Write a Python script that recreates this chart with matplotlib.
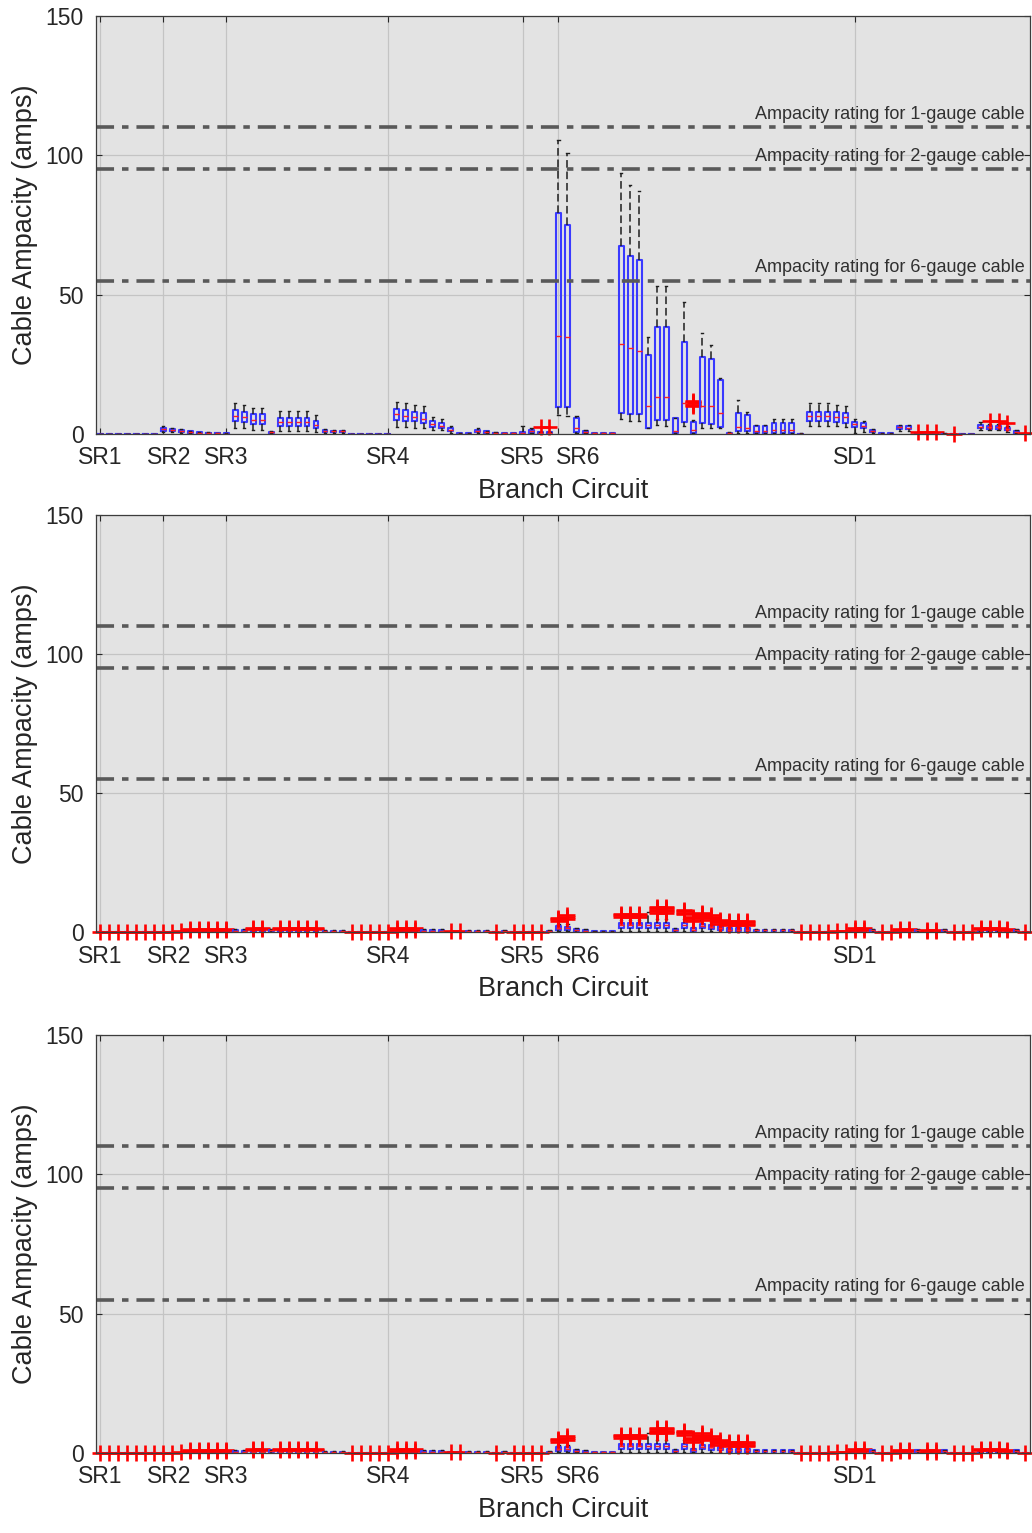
import matplotlib.pyplot as plt
from matplotlib.transforms import ScaledTranslation

plt.rcParams['font.family'] = ['Liberation Sans', 'DejaVu Sans']

# branch circuit groups marked along the x axis
circuit_pos = [1, 8, 15, 33, 48, 52, 85]
circuit_names = ['SR1', 'SR2', 'SR3', 'SR4', 'SR5', 'SR6', 'SD1']
# small horizontal nudge (points) so neighbouring labels don't collide
label_shift = [0, 4, 0, 0, 0, 14, 0]

# cable ratings (amps)
ratings = [110, 95, 55]
rating_labels = ['Ampacity rating for 1-gauge cable',
                 'Ampacity rating for 2-gauge cable',
                 'Ampacity rating for 6-gauge cable']

n_circuits = 104

# ---- top panel: box statistics per circuit (amps) ----
whislo_top = [0, 0, 0, 0, 0, 0, 0, 0.8, 0.6, 0.5,
              0.3, 0.2, 0.1, 0.1, 0, 2.0, 2.0, 1.5, 1.5, 0.2,
              1.2, 1.2, 1.2, 1.2, 0.8, 0.5, 0.4, 0.4, 0, 0,
              0, 0, 0, 2.5, 2.5, 2.0, 2.0, 1.5, 1.5, 0.5,
              0, 0, 0.5, 0.3, 0.1, 0, 0, 0.1, 0.2, 0,
              0, 6.8, 6.5, 0.3, 0.3, 0, 0, 0, 5.3, 4.8,
              4.8, 2.0, 3.2, 3.0, 0.3, 2.9, 0.3, 2.0, 2.0, 2.0,
              0, 0.5, 0.5, 0.3, 0.3, 0.3, 0.3, 0.3, 0, 3.0,
              3.0, 3.0, 2.8, 2.5, 0.2, 0.8, 0.3, 0, 0, 1.2,
              1.0, 0, 0, 0, 0, 0, 0, 0, 1.5, 1.3,
              1.3, 0.8, 0.2, 0]
q1_top = [0, 0, 0, 0, 0, 0, 0, 1.2, 0.9, 0.8,
          0.5, 0.3, 0.2, 0.2, 0, 4.5, 4.3, 3.5, 3.5, 0.4,
          3.0, 3.0, 3.0, 3.0, 2.3, 0.8, 0.7, 0.7, 0, 0,
          0, 0, 0, 5.0, 4.8, 4.5, 4.0, 2.5, 2.3, 1.0,
          0, 0, 0.8, 0.5, 0.2, 0.1, 0.1, 0.3, 0.5, 0.2,
          0.2, 9.8, 9.6, 0.8, 0.5, 0.1, 0.1, 0.1, 7.7, 7.2,
          7.2, 2.0, 5.0, 5.0, 0.5, 4.4, 0.5, 3.8, 3.6, 2.6,
          0.1, 1.2, 1.2, 0.5, 0.5, 0.5, 0.5, 0.5, 0, 4.8,
          4.8, 4.8, 4.3, 3.8, 2.6, 2.0, 0.7, 0, 0, 1.8,
          1.7, 0, 0, 0, 0, 0, 0, 0, 2.0, 1.9,
          1.9, 1.3, 0.5, 0]
med_top = [0, 0, 0, 0, 0, 0, 0, 1.8, 1.3, 1.1,
           0.7, 0.5, 0.4, 0.3, 0.1, 6.5, 6.0, 5.0, 5.0, 0.6,
           4.3, 4.3, 4.3, 4.3, 3.3, 1.0, 0.9, 0.9, 0, 0,
           0, 0, 0, 7.0, 6.5, 6.0, 5.5, 3.5, 3.0, 1.5,
           0.1, 0.1, 1.1, 0.7, 0.4, 0.2, 0.2, 0.5, 0.9, 0.4,
           0.4, 35.2, 34.7, 2.0, 0.8, 0.2, 0.2, 0.2, 32.2, 30.7,
           29.9, 10.0, 13.2, 13.2, 1.0, 11.0, 1.5, 10.0, 10.0, 7.4,
           0.3, 2.6, 2.0, 1.0, 1.0, 1.5, 1.5, 1.5, 0, 6.5,
           6.5, 6.5, 6.2, 6.0, 3.5, 3.0, 1.0, 0.1, 0.1, 2.4,
           2.2, 0.1, 0.1, 0.1, 0, 0, 0, 0, 2.6, 2.5,
           2.5, 1.8, 0.8, 0]
q3_top = [0, 0, 0, 0, 0, 0, 0, 2.3, 1.7, 1.4,
          0.9, 0.6, 0.5, 0.4, 0.2, 8.5, 8.0, 7.0, 7.0, 0.8,
          5.6, 5.6, 5.6, 5.6, 4.5, 1.3, 1.2, 1.2, 0, 0,
          0, 0, 0, 9.0, 8.5, 8.0, 7.5, 4.5, 4.0, 2.2,
          0.3, 0.2, 1.4, 0.9, 0.5, 0.3, 0.3, 0.8, 1.4, 0.6,
          0.6, 79.2, 75.0, 5.7, 1.1, 0.3, 0.3, 0.3, 67.6, 64.0,
          62.4, 28.3, 38.3, 38.3, 5.6, 32.9, 4.4, 27.5, 26.8, 19.4,
          0.5, 7.4, 6.8, 2.9, 2.9, 4.1, 4.1, 4.1, 0.1, 8.0,
          8.0, 8.0, 7.8, 7.4, 4.4, 4.1, 1.4, 0.2, 0.2, 2.9,
          2.7, 0.2, 0.2, 0.2, 0.1, 0, 0, 0, 3.2, 3.0,
          3.0, 2.3, 1.1, 0]
whishi_top = [0, 0, 0, 0, 0, 0, 0, 2.8, 2.0, 1.7,
              1.1, 0.8, 0.6, 0.5, 0.3, 11.0, 10.5, 9.5, 9.5, 1.0,
              8.4, 8.4, 8.4, 8.4, 6.8, 1.8, 1.6, 1.6, 0, 0,
              0, 0, 0, 11.5, 11.0, 10.5, 10.0, 6.0, 5.5, 3.0,
              0.5, 0.3, 2.0, 1.2, 0.7, 0.4, 0.4, 3.0, 2.0, 0.8,
              0.8, 105.5, 101.0, 6.5, 1.5, 0.4, 0.4, 0.4, 93.5, 89.3,
              87.3, 34.9, 53.1, 53.1, 5.8, 47.5, 5.0, 36.1, 31.9, 20.0,
              0.7, 12.2, 8.0, 3.2, 3.2, 5.3, 5.3, 5.3, 0.2, 11.0,
              11.0, 11.0, 10.4, 10.0, 5.3, 4.6, 1.8, 0.3, 0.3, 3.4,
              3.2, 0.3, 0.3, 0.3, 0.2, 0, 0, 0, 4.3, 3.5,
              3.5, 2.9, 1.5, 0]
# outliers: ((first circuit, last circuit), values)
fliers_top = [((50, 51), [2.5]),
              ((67, 67), [10.0, 10.5, 11.0, 11.5, 12.0]),
              ((92, 94), [0.8]),
              ((96, 96), [0.0]),
              ((100, 101), [4.5]),
              ((102, 102), [4.0]),
              ((104, 104), [0.3])]

# ---- lower panels: box statistics per circuit (amps) ----
whislo_low = [0, 0, 0, 0, 0, 0, 0, 0, 0, 0,
              0, 0, 0, 0, 0, 0.1, 0.1, 0, 0, 0.1,
              0, 0, 0, 0, 0, 0, 0, 0, 0, 0,
              0, 0, 0, 0, 0, 0, 0.1, 0.1, 0.1, 0,
              0, 0, 0, 0, 0, 0, 0, 0, 0, 0,
              0, 0.3, 0.3, 0.2, 0.1, 0, 0, 0, 0.5, 0.5,
              0.5, 0.5, 0.5, 0.5, 0.2, 0.5, 0.2, 0.5, 0.4, 0.3,
              0.2, 0.2, 0.2, 0.1, 0.1, 0.1, 0.1, 0.1, 0, 0,
              0, 0, 0, 0, 0, 0, 0.1, 0, 0, 0,
              0, 0.1, 0, 0, 0.1, 0, 0, 0, 0, 0,
              0, 0, 0.1, 0]
q1_low = [0, 0, 0, 0, 0, 0, 0, 0, 0, 0,
          0, 0, 0, 0, 0, 0.3, 0.3, 0.1, 0.1, 0.3,
          0.1, 0.1, 0.1, 0.1, 0.1, 0.1, 0.1, 0.1, 0, 0,
          0, 0, 0, 0, 0, 0, 0.3, 0.3, 0.3, 0,
          0, 0.1, 0.1, 0.1, 0, 0.1, 0, 0, 0, 0,
          0.1, 0.8, 0.7, 0.5, 0.3, 0.1, 0.1, 0.1, 1.5, 1.5,
          1.5, 1.5, 1.5, 1.5, 0.5, 1.5, 0.5, 1.3, 1.1, 0.9,
          0.5, 0.5, 0.5, 0.3, 0.3, 0.3, 0.3, 0.3, 0, 0,
          0, 0, 0, 0, 0, 0, 0.3, 0, 0, 0,
          0, 0.3, 0, 0, 0.3, 0, 0, 0, 0, 0,
          0, 0, 0.3, 0]
med_low = [0, 0, 0, 0, 0, 0, 0, 0, 0, 0,
           0.1, 0.1, 0.1, 0.1, 0.1, 0.5, 0.5, 0.2, 0.2, 0.6,
           0.2, 0.2, 0.2, 0.2, 0.2, 0.3, 0.3, 0.3, 0, 0,
           0, 0, 0, 0.1, 0.1, 0.1, 0.5, 0.5, 0.5, 0.1,
           0.1, 0.3, 0.3, 0.3, 0, 0.3, 0, 0, 0, 0,
           0.3, 1.5, 1.3, 0.8, 0.5, 0.2, 0.2, 0.2, 2.5, 2.5,
           2.5, 2.5, 2.5, 2.5, 0.8, 2.5, 0.9, 2.2, 2.0, 1.6,
           0.9, 0.9, 0.9, 0.6, 0.6, 0.6, 0.6, 0.6, 0, 0,
           0, 0, 0, 0, 0.1, 0.1, 0.6, 0, 0, 0.1,
           0.1, 0.6, 0.1, 0.1, 0.6, 0, 0, 0, 0.1, 0.1,
           0.1, 0.1, 0.6, 0]
q3_low = [0, 0, 0, 0, 0, 0, 0, 0, 0, 0,
          0.2, 0.2, 0.2, 0.2, 0.2, 0.8, 0.8, 0.4, 0.4, 0.9,
          0.4, 0.4, 0.4, 0.4, 0.4, 0.5, 0.5, 0.5, 0, 0,
          0, 0, 0, 0.2, 0.2, 0.2, 0.8, 0.8, 0.8, 0.2,
          0.2, 0.5, 0.5, 0.5, 0, 0.5, 0, 0, 0, 0,
          0.5, 2.2, 2.0, 1.2, 0.8, 0.4, 0.4, 0.4, 3.3, 3.3,
          3.3, 3.3, 3.3, 3.3, 1.2, 3.3, 1.3, 3.0, 2.7, 2.3,
          1.3, 1.3, 1.3, 0.9, 0.9, 0.9, 0.9, 0.9, 0, 0,
          0, 0, 0, 0, 0.2, 0.2, 0.9, 0, 0, 0.2,
          0.2, 0.9, 0.2, 0.2, 0.9, 0, 0, 0, 0.3, 0.3,
          0.3, 0.2, 0.9, 0]
whishi_low = [0, 0, 0, 0, 0, 0, 0, 0, 0, 0,
              0.3, 0.3, 0.3, 0.3, 0.3, 1.1, 1.1, 0.6, 0.6, 1.2,
              0.6, 0.6, 0.6, 0.6, 0.6, 0.7, 0.7, 0.7, 0, 0,
              0, 0, 0, 0.3, 0.3, 0.3, 1.1, 1.1, 1.1, 0.3,
              0.3, 0.7, 0.7, 0.7, 0, 0.7, 0, 0, 0, 0,
              0.7, 3.0, 2.8, 1.6, 1.1, 0.5, 0.5, 0.5, 4.5, 4.5,
              4.5, 7.3, 4.8, 4.8, 1.5, 4.8, 1.8, 4.3, 3.8, 3.0,
              1.8, 1.8, 1.8, 1.2, 1.2, 1.2, 1.2, 1.2, 0, 0,
              0, 0, 0, 0, 0.3, 0.3, 1.2, 0, 0, 0.3,
              0.3, 1.2, 0.3, 0.3, 1.2, 0, 0, 0, 0.5, 0.5,
              0.5, 0.4, 1.2, 0]
fliers_low = [((1, 9), [0.0]),
              ((10, 10), [0.3]),
              ((11, 15), [0.6, 1.0]),
              ((18, 19), [1.0, 1.6]),
              ((21, 25), [1.0, 1.6]),
              ((29, 33), [0.0]),
              ((34, 36), [0.6, 1.3]),
              ((40, 41), [0.5]),
              ((45, 45), [0.0]),
              ((47, 50), [0.0]),
              ((52, 52), [4.0, 4.6, 5.0]),
              ((53, 53), [4.6, 5.5, 6.1]),
              ((59, 61), [5.5, 6.0, 6.5]),
              ((63, 64), [7.0, 7.5, 8.0, 8.5, 9.0]),
              ((66, 66), [6.5, 7.0, 7.5, 8.0]),
              ((67, 67), [4.0, 4.5, 5.0, 5.5]),
              ((68, 68), [5.5, 6.0, 6.5, 7.0]),
              ((69, 69), [4.5, 5.0, 5.5, 6.0]),
              ((70, 70), [3.0, 3.5, 4.0, 4.5]),
              ((71, 73), [2.5, 3.0, 3.5, 4.0]),
              ((79, 82), [0.0]),
              ((83, 84), [0.5]),
              ((85, 86), [0.8, 1.3]),
              ((88, 89), [0.0]),
              ((90, 91), [0.6, 1.0]),
              ((93, 94), [0.5, 0.9]),
              ((96, 98), [0.0]),
              ((99, 101), [1.0, 1.6]),
              ((102, 102), [0.7, 1.2]),
              ((104, 104), [0.0])]


def build_stats(wlo, q1, med, q3, whi, fliers):
    out = {}
    for (a, b), vals in fliers:
        for p in range(a, b + 1):
            out[p] = vals
    stats = []
    for i in range(n_circuits):
        stats.append(dict(whislo=wlo[i], q1=q1[i], med=med[i], q3=q3[i],
                          whishi=whi[i], fliers=out.get(i + 1, [])))
    return stats


def draw_panel(ax, stats):
    ax.set_facecolor('#e3e3e3')
    ax.set_axisbelow(True)
    ax.grid(True, color='#c4c4c4', linewidth=0.9)
    parts = ax.bxp(stats, positions=range(1, n_circuits + 1), widths=0.55,
                   capwidths=0.25, manage_ticks=False,
                   boxprops=dict(color='#3a3aff', linewidth=1.5),
                   medianprops=dict(color='#ff2020', linewidth=1.0),
                   whiskerprops=dict(color='#1e1e1e', linewidth=1.1,
                                     linestyle=(0, (5, 2.5))),
                   capprops=dict(color='#1e1e1e', linewidth=1.0),
                   flierprops=dict(marker='+', markeredgecolor='#ff0000',
                                   markersize=12, markeredgewidth=1.9))
    # outliers sitting on zero are drawn in full, below the axis line too
    for fl in parts['fliers']:
        fl.set_clip_on(False)
    for r, lab in zip(ratings, rating_labels):
        ax.axhline(r, color='#595959', linewidth=2.6,
                   linestyle=(0, (5, 2.2, 1.8, 2.2)))
        ax.text(103.9, r + 1.6, lab, ha='right', va='bottom',
                fontsize=13, color='#303030')
    ax.set_xlim(0.5, n_circuits + 0.5)
    ax.set_ylim(0, 150)
    ax.set_yticks([0, 50, 100, 150])
    ax.set_xticks(circuit_pos)
    ax.set_xticklabels(circuit_names)
    ax.tick_params(axis='both', direction='in', length=4, top=True,
                   right=True, labelsize=16.5, colors='#262626',
                   labelcolor='#262626')
    ax.tick_params(axis='x', pad=9)
    ax.tick_params(axis='y', pad=9)
    for lbl, dx in zip(ax.get_xticklabels(), label_shift):
        lbl.set_transform(lbl.get_transform() +
                          ScaledTranslation(dx / 72, 0, ax.figure.dpi_scale_trans))
    for s in ax.spines.values():
        s.set_color('#3c3c3c')
        s.set_linewidth(0.9)
    ax.set_xlabel('Branch Circuit', fontsize=19.5, color='#262626')
    ax.set_ylabel('Cable Ampacity (amps)', fontsize=19.5, color='#262626')
    ax.xaxis.set_label_coords(0.5, -0.105)
    ax.yaxis.set_label_coords(-0.062, 0.5)


fig = plt.figure(figsize=(10.32, 15.33), dpi=100)
top_stats = build_stats(whislo_top, q1_top, med_top, q3_top, whishi_top, fliers_top)
low_stats = build_stats(whislo_low, q1_low, med_low, q3_low, whishi_low, fliers_low)

ax1 = fig.add_axes([0.093, 0.7169, 0.905, 0.2727])
ax2 = fig.add_axes([0.093, 0.3920, 0.905, 0.2720])
ax3 = fig.add_axes([0.093, 0.0522, 0.905, 0.2727])
draw_panel(ax1, top_stats)
draw_panel(ax2, low_stats)
draw_panel(ax3, low_stats)

fig.savefig('out.png', dpi=100)
